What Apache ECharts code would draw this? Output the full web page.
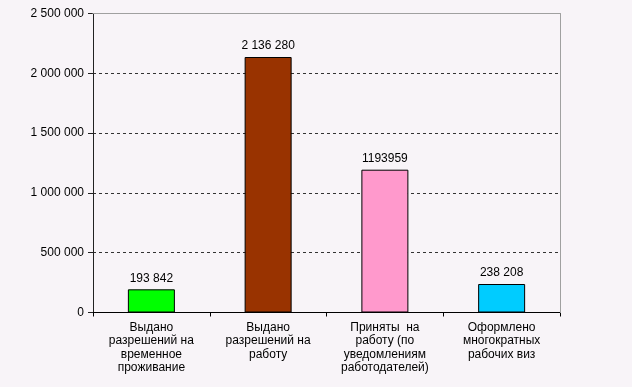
<!DOCTYPE html>
<html><head><meta charset="utf-8">
<script src="https://cdn.jsdelivr.net/npm/echarts@6/dist/echarts.min.js"></script>
<style>html,body{margin:0;padding:0;background:#f8f4f8;}#c{width:632px;height:387px;}</style>
</head><body><div id="c"></div>
<script>
const categories = [
  "Выдано\nразрешений на\nвременное\nпроживание",
  "Выдано\nразрешений на\nработу",
  "Приняты  на\nработу (по\nуведомлениям\nработодателей)",
  "Оформлено\nмногократных\nрабочих виз"
];
const values = [193842, 2136280, 1193959, 238208];
const valueLabels = ["193 842", "2 136 280", "1193959", "238 208"];
const barColors = ["#00ff00", "#993300", "#ff99cc", "#00ccff"];
const yMin = 0, yMax = 2500000, yStep = 500000;

function fmt(v){ return String(v).replace(/\B(?=(\d{3})+(?!\d))/g, " "); }

const chart = echarts.init(document.getElementById('c'), null, {renderer:'canvas'});
const font = {fontFamily: 'Liberation Sans, Arial, sans-serif', fontSize: 12, color: '#000'};
chart.setOption({
  backgroundColor: '#f8f4f8',
  animation: false,
  grid: {left: 93, right: 72, top: 13.5, bottom: 74.5, containLabel: false},
  xAxis: [{
    type: 'category', data: categories,
    axisLine: {lineStyle: {color: '#000', width: 1}},
    axisTick: {show: true, length: 4, inside: false, lineStyle: {color: '#000'}},
    axisLabel: Object.assign({margin: 8, lineHeight: 13.6, interval: 0, align: 'center'}, font),
    splitLine: {show: false}
  }, {
    type: 'category', data: categories, position: 'top', z: 5,
    axisLine: {show: true, onZero: false, lineStyle: {color: '#a0a0a0', width: 1}},
    axisTick: {show: false}, axisLabel: {show: false}, splitLine: {show: false}
  }],
  yAxis: [{
    type: 'value', min: yMin, max: yMax, interval: yStep,
    axisLine: {show: true, lineStyle: {color: '#222', width: 1}},
    axisTick: {show: true, length: 5, lineStyle: {color: '#222'}},
    axisLabel: Object.assign({margin: 9, formatter: fmt}, font),
    splitLine: {show: true, showMaxLine: false, showMinLine: false,
      lineStyle: {color: '#333', type: [3, 3], width: 1}}
  }, {
    type: 'value', min: yMin, max: yMax, interval: yStep, position: 'right', z: 5,
    axisLine: {show: true, onZero: false, lineStyle: {color: '#a0a0a0', width: 1}},
    axisTick: {show: false}, axisLabel: {show: false}, splitLine: {show: false}
  }],
  series: [{
    type: 'bar', xAxisIndex: 0, yAxisIndex: 0,
    barWidth: 47,
    data: values.map((v, i) => ({value: v, itemStyle: {color: barColors[i]}})),
    itemStyle: {borderColor: '#000', borderWidth: 1},
    label: Object.assign({show: true, position: 'top', distance: 5,
      formatter: p => valueLabels[p.dataIndex]}, font)
  }]
});
</script></body></html>
